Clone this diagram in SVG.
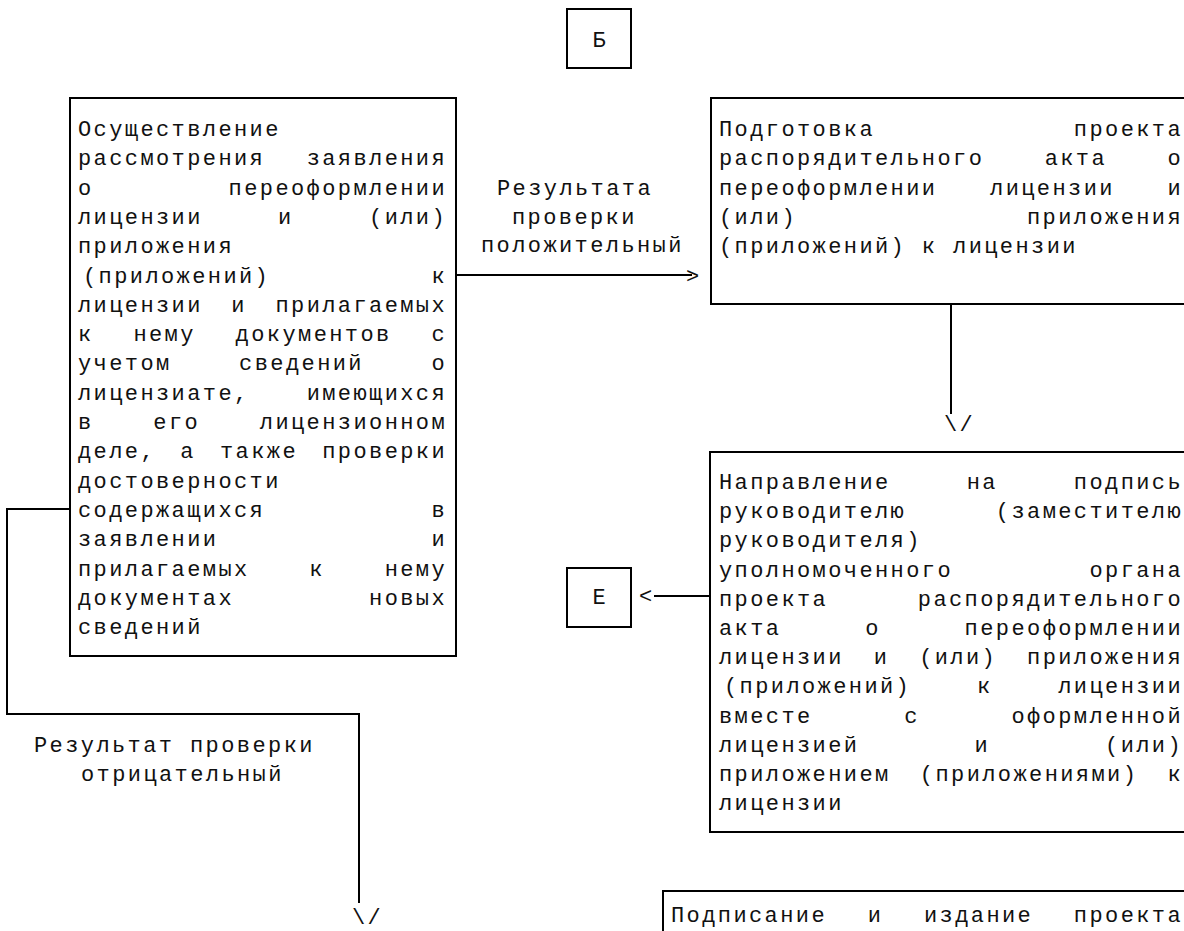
<svg xmlns="http://www.w3.org/2000/svg" width="1184" height="931" viewBox="0 0 1184 931">
<style>
  .box { fill: #fff; stroke: #000; stroke-width: 2; }
  .ln { fill: none; stroke: #000; stroke-width: 2; }
  text { font-family: "Liberation Mono", "Courier New", monospace; font-size: 22px; letter-spacing: 2.4px; fill: #111; }
</style>
<rect width="1184" height="931" fill="#fff"/>

<g id="connectors">
  <path class="ln" d="M456,275 H692"/>
  <text x="686" y="283">&gt;</text>
  <text x="497" y="195">Результата</text>
  <text x="512" y="224">проверки</text>
  <text x="481" y="252">положительный</text>
  <path class="ln" d="M951,304 V414"/>
  <text x="944" y="431">\/</text>
  <path class="ln" d="M710,596 H654"/>
  <text x="639" y="603">&lt;</text>
  <path class="ln" d="M71,509 H7 V714 H359 V903"/>
  <text x="34" y="752">Результат проверки</text>
  <text x="81" y="781">отрицательный</text>
  <text x="352" y="924">\/</text>
</g>

<g id="node-b">
  <rect class="box" x="567" y="9" width="64" height="59"/>
  <text x="592.4" y="47">Б</text>
</g>

<g id="node-e">
  <rect class="box" x="567" y="568" width="64" height="59"/>
  <text x="592.4" y="604">Е</text>
</g>

<g id="node-review">
  <rect class="box" x="70" y="98" width="386" height="558"/>
  <text x="78" y="136">Осуществление</text>
  <text x="78" y="165.3" style="word-spacing:25.8px">рассмотрения заявления</text>
  <text x="78" y="194.6" style="word-spacing:119.4px">о переоформлении</text>
  <text x="78" y="223.9" style="word-spacing:59.7px">лицензии и (или)</text>
  <text x="78" y="253.2">приложения</text>
  <text x="83" y="282.5" style="word-spacing:145.6px">(приложений) к</text>
  <text x="78" y="311.8" style="word-spacing:12.9px">лицензии и прилагаемых</text>
  <text x="78" y="341.1" style="word-spacing:24.2px">к нему документов с</text>
  <text x="78" y="370.4" style="word-spacing:51.9px">учетом сведений о</text>
  <text x="78" y="399.7" style="word-spacing:41.4px">лицензиате, имеющихся</text>
  <text x="78" y="429" style="word-spacing:44.1px">в его лицензионном</text>
  <text x="78" y="458.3" style="word-spacing:8.6px">деле, а также проверки</text>
  <text x="78" y="487.6">достоверности</text>
  <text x="78" y="516.9" style="word-spacing:150.6px">содержащихся в</text>
  <text x="78" y="546.2" style="word-spacing:197.4px">заявлении и</text>
  <text x="78" y="575.5" style="word-spacing:44.1px">прилагаемых к нему</text>
  <text x="78" y="604.8" style="word-spacing:119.4px">документах новых</text>
  <text x="78" y="634.1">сведений</text>
</g>

<g id="node-prepare">
  <rect class="box" x="711" y="98" width="500" height="206"/>
  <text x="719" y="136" style="word-spacing:183.2px">Подготовка проекта</text>
  <text x="719" y="165.3" style="word-spacing:44.8px">распорядительного акта о</text>
  <text x="719" y="194.6" style="word-spacing:37px">переоформлении лицензии и</text>
  <text x="719" y="223.9" style="word-spacing:214.4px">(или) приложения</text>
  <text x="719" y="253.2">(приложений) к лицензии</text>
</g>

<g id="node-send">
  <rect class="box" x="710" y="452" width="500" height="380"/>
  <text x="719" y="489" style="word-spacing:60.4px">Направление на подпись</text>
  <text x="719" y="518.2" style="word-spacing:74px">руководителю (заместителю</text>
  <text x="719" y="547.4">руководителя)</text>
  <text x="719" y="576.6" style="word-spacing:120.8px">уполномоченного органа</text>
  <text x="719" y="605.8" style="word-spacing:74px">проекта распорядительного</text>
  <text x="719" y="635" style="word-spacing:68.2px">акта о переоформлении</text>
  <text x="719" y="664.2" style="word-spacing:14.27px">лицензии и (или) приложения</text>
  <text x="724" y="693.4" style="word-spacing:50.1px">(приложений) к лицензии</text>
  <text x="719" y="722.6" style="word-spacing:76px">вместе с оформленной</text>
  <text x="719" y="751.8" style="word-spacing:99.4px">лицензией и (или)</text>
  <text x="719" y="781" style="word-spacing:13.6px">приложением (приложениями) к</text>
  <text x="719" y="810.2">лицензии</text>
</g>

<g id="node-sign">
  <rect class="box" x="663" y="891" width="550" height="80"/>
  <text x="671" y="922" style="word-spacing:25.07px">Подписание и издание проекта</text>
</g>
</svg>
